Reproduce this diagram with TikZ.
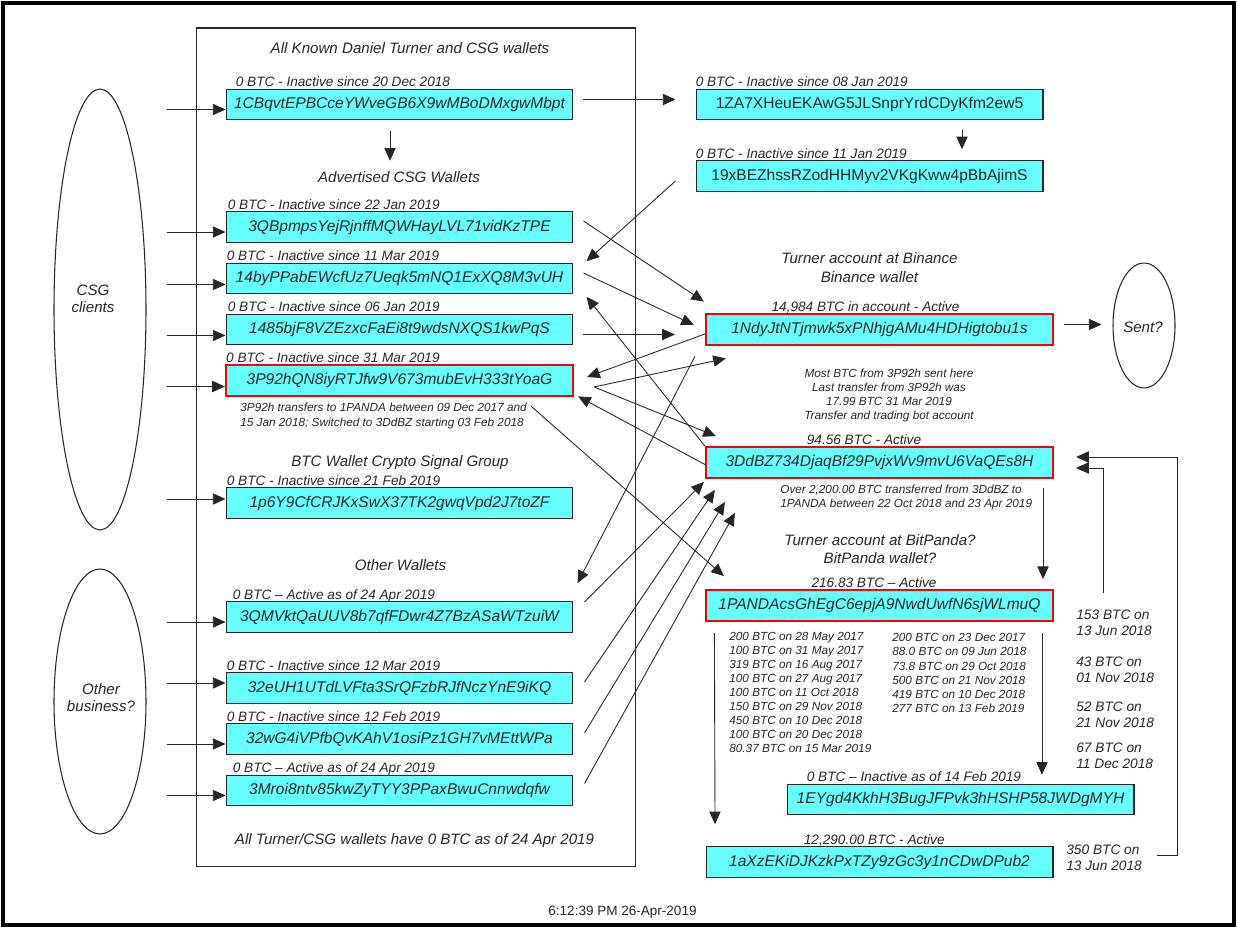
\documentclass[tikz,border=0pt]{standalone}
\usepackage{fontspec}
\setmainfont{Liberation Sans}
\usetikzlibrary{positioning}
\usetikzlibrary{calc}
\usetikzlibrary{arrows.meta}
\usetikzlibrary{shapes.geometric}
\definecolor{walletcyan}{RGB}{102,255,255}
\definecolor{flagred}{RGB}{255,0,0}
\definecolor{ink}{gray}{.15}
\newcommand{\widthwallet}{6.94cm}
\newcommand{\heightwallet}{0.61cm}
\newcommand{\walletfont}{\fontsize{8.85}{10}\selectfont\itshape}
\newcommand{\statusfont}{\fontsize{7.75}{9}\selectfont\itshape}
\newcommand{\headfont}{\fontsize{8.6}{10.8}\selectfont\itshape}
\newcommand{\notefont}{\fontsize{6.7}{8}\selectfont\itshape}
\newcommand{\sumfont}{\fontsize{7.8}{9.3}\selectfont\itshape}
\tikzset{
    wallet/.style={draw=ink, fill=walletcyan, line width=0.6pt, text=black!85,
        minimum width=\widthwallet, minimum height=\heightwallet, inner sep=0pt, font=\walletfont},
    plain wallet/.style={wallet, font=\fontsize{8.85}{10}\selectfont\upshape},
    flagged/.style={wallet, draw=flagred, line width=1.3pt},
    status/.style={anchor=base west, inner sep=0pt, text=ink, font=\statusfont},
    heading/.style={inner sep=0pt, align=center, text=ink, font=\headfont},
    remark/.style={inner sep=0pt, align=left, text=ink, font=\notefont},
    amount/.style={anchor=west, inner sep=0pt, align=left, text=ink, font=\sumfont},
    party/.style={draw=ink, ellipse, line width=0.6pt, inner sep=0pt},
    flow/.style={-{Triangle[length=7.2pt, width=6.4pt]}, draw=ink, line width=0.5pt},
}

\begin{document}
\begin{tikzpicture}[x=0.02cm, y=-0.02cm]
    \useasboundingbox (0,0) rectangle (1238,928);
    \draw[line width=2.2pt] (3,3) rectangle (1234,925);
    \draw[ink, line width=0.6pt] (196.5,28) rectangle (635.5,866.5);

    % clients
    \node[party, minimum width=1.84cm, minimum height=8.82cm] (csg) at (100,309.5) {};
    \node[heading, font=\fontsize{8.6}{10}\selectfont\itshape] (csgtxt) at (93,299) {CSG\\clients};
    \node[party, minimum width=1.84cm, minimum height=5.3cm] (biz) at (100,701.5) {};
    \node[heading, font=\fontsize{8.6}{10}\selectfont\itshape] (biztxt) at (101,697.5) {Other\\business?};
    \node[party, minimum width=1.24cm, minimum height=2.5cm] (sent) at (1144,325.5) {};
    \node[heading] (senttxt) at (1143,327) {Sent?};

    % left column
    \node[heading] (known) at (410,48) {All Known Daniel Turner and CSG wallets};
    \node[heading] (advert) at (399,177) {Advertised CSG Wallets};
    \node[heading] (signal) at (400,463) {BTC Wallet Crypto Signal Group};
    \node[heading] (others) at (400.5,565) {Other Wallets};
    \node[heading] (allzero) at (414.5,841) {All Turner/CSG wallets have 0 BTC as of 24 Apr 2019};

    \node[wallet] (w1) at (399.5,104.5) {1CBqvtEPBCceYWveGB6X9wMBoDMxgwMbpt};
    \node[wallet] (adv1) at (399.5,227) {3QBpmpsYejRjnffMQWHayLVL71vidKzTPE};
    \node[wallet] (adv2) at (399.5,278.5) {14byPPabEWcfUz7Ueqk5mNQ1ExXQ8M3vUH};
    \node[wallet] (adv3) at (399.5,329.5) {1485bjF8VZEzxcFaEi8t9wdsNXQS1kwPqS};
    \node[flagged] (adv4) at (399.5,380.5) {3P92hQN8iyRTJfw9V673mubEvH333tYoaG};
    \node[remark, anchor=west, font=\fontsize{6.7}{8.5}\selectfont\itshape] (note92) at (240,415.5)
        {3P92h transfers to 1PANDA between 09 Dec 2017 and\\15 Jan 2018; Switched to 3DdBZ starting 03 Feb 2018};
    \node[wallet] (sig) at (399.5,503) {1p6Y9CfCRJKxSwX37TK2gwqVpd2J7toZF};
    \node[wallet] (oth1) at (399.5,617) {3QMVktQaUUV8b7qfFDwr4Z7BzASaWTzuiW};
    \node[wallet] (oth2) at (399.5,688) {32eUH1UTdLVFta3SrQFzbRJfNczYnE9iKQ};
    \node[wallet] (oth3) at (399.5,739) {32wG4iVPfbQvKAhV1osiPz1GH7vMEttWPa};
    \node[wallet] (oth4) at (399.5,790.5) {3Mroi8ntv85kwZyTYY3PPaxBwuCnnwdqfw};

    % right column
    \node[plain wallet] (za7x) at (869.5,104.5) {1ZA7XHeuEKAwG5JLSnprYrdCDyKfm2ew5};
    \node[plain wallet] (bez19) at (869.5,176) {19xBEZhssRZodHHMyv2VKgKww4pBbAjimS};
    \node[heading] (bintitle) at (869.5,268) {Turner account at Binance\\Binance wallet};
    \node[flagged] (binance) at (879.5,329.5) {1NdyJtNTjmwk5xPNhjgAMu4HDHigtobu1s};
    \node[remark, align=center] (binnote) at (889,395.5)
        {Most BTC from 3P92h sent here\\Last transfer from 3P92h was\\17.99 BTC 31 Mar 2019\\Transfer and trading bot account};
    \node[flagged] (ddbz) at (879.5,462.5) {3DdBZ734DjaqBf29PvjxWv9mvU6VaQEs8H};
    \node[remark, anchor=west, font=\fontsize{6.7}{7.7}\selectfont\itshape] (ddbznote) at (780,497.5)
        {Over 2,200.00 BTC transferred from 3DdBZ to\\1PANDA between 22 Oct 2018 and 23 Apr 2019};
    \node[heading, font=\fontsize{8.6}{10.3}\selectfont\itshape] (pandatitle) at (880,549) {Turner account at BitPanda?\\BitPanda wallet?};
    \node[flagged] (panda) at (879.5,605.5) {1PANDAcsGhEgC6epjA9NwdUwfN6sjWLmuQ};
    \node[remark, anchor=west] (listA) at (729,692.5)
        {200 BTC on 28 May 2017\\100 BTC on 31 May 2017\\319 BTC on 16 Aug 2017\\100 BTC on 27 Aug 2017\\100 BTC on 11 Oct 2018\\150 BTC on 29 Nov 2018\\450 BTC on 10 Dec 2018\\100 BTC on 20 Dec 2018\\80.37 BTC on 15 Mar 2019};
    \node[remark, anchor=west] (listB) at (892,673)
        {200 BTC on 23 Dec 2017\\88.0 BTC on 09 Jun 2018\\73.8 BTC on 29 Oct 2018\\500 BTC on 21 Nov 2018\\419 BTC on 10 Dec 2018\\277 BTC on 13 Feb 2019};
    \node[wallet] (eygd) at (960.5,799.5) {1EYgd4KkhH3BugJFPvk3hHSHP58JWDgMYH};
    \node[wallet] (axze) at (879.5,862) {1aXzEKiDJKzkPxTZy9zGc3y1nCDwDPub2};

    \node[amount] (t153) at (1076,623) {153 BTC on\\13 Jun 2018};
    \node[amount] (t43) at (1076,670) {43 BTC on\\01 Nov 2018};
    \node[amount] (t52) at (1076,715) {52 BTC on\\21 Nov 2018};
    \node[amount] (t67) at (1076,756) {67 BTC on\\11 Dec 2018};
    \node[amount] (t350) at (1066,857.5) {350 BTC on\\13 Jun 2018};

    \foreach \w/\dx/\txt in {w1/10/{0 BTC - Inactive since 20 Dec 2018}, adv1/2/{0 BTC - Inactive since 22 Jan 2019},
            adv2/1/{0 BTC - Inactive since 11 Mar 2019}, adv3/2/{0 BTC - Inactive since 06 Jan 2019},
            adv4/1/{0 BTC - Inactive since 31 Mar 2019}, sig/1/{0 BTC - Inactive since 21 Feb 2019},
            oth1/7/{0 BTC – Active as of 24 Apr 2019}, oth2/1/{0 BTC - Inactive since 12 Mar 2019},
            oth3/1/{0 BTC - Inactive since 12 Feb 2019}, oth4/7/{0 BTC – Active as of 24 Apr 2019},
            za7x/0/{0 BTC - Inactive since 08 Jan 2019}, bez19/0/{0 BTC - Inactive since 11 Jan 2019},
            eygd/20/{0 BTC – Inactive as of 14 Feb 2019}, axze/98/{12,290.00 BTC - Active}}
        \node[status] (\w-st) at ($(\w.north west)+(\dx,-2)$) {\txt};
    \node[status, anchor=base] (binance-st) at ($(binance.north)+(-14,-2)$) {14,984 BTC in account - Active};
    \node[status, anchor=base] (ddbz-st) at ($(ddbz.north)+(-15.5,-2)$) {94.56 BTC - Active};
    \node[status, anchor=base] (panda-st) at ($(panda.north)+(-5.5,-2)$) {216.83 BTC – Active};

    % incoming from clients
    \foreach \w/\dy in {w1/5, adv1/5, adv2/6, adv3/6, adv4/6, sig/-4}
        \draw[flow] ($(csg.east |- \w.west)+(20,\dy)$) -- ($(\w.west)+(0,\dy)$);
    \foreach \w/\dy in {oth1/5, oth2/-5, oth3/5, oth4/5}
        \draw[flow] ($(biz.east |- \w.west)+(20,\dy)$) -- ($(\w.west)+(0,\dy)$);

    % transfers
    \draw[flow] ($(w1.east)+(10,-5)$) -- ($(za7x.west)+(-20,-5)$);
    \draw[flow] ($(w1.south)+(-9.5,10.5)$) -- ($(w1.south)+(-9.5,40.5)$);
    \draw[flow] ($(za7x.south)+(92.5,10)$) -- ($(bez19.north)+(92.5,-11)$);
    \draw[flow] ($(bez19.west)+(-20,5)$) -- ($(adv2.north east)+(13,-1.5)$);
    \draw[flow] ($(adv1.east)+(10,-6)$) -- ($(binance.north west)+(-1,-11.5)$);
    \draw[flow] ($(adv2.east)+(10,-5.5)$) -- ($(binance.west)+(-11,-4.5)$);
    \draw[flow] ($(adv3.east)+(10,5)$) -- ($(binance.west)+(-30,5)$);
    \draw[flow] ($(binance.west)+(0,4.5)$) -- ($(adv4.east)+(13,-3.5)$);
    \draw[flow] ($(adv4.east)+(20,6.5)$) -- ($(binance.south west)+(21,12.5)$);
    \draw[flow] ($(adv4.east)+(20,6.5)$) -- ($(ddbz.north west)+(11,-10)$);
    \draw[flow] ($(ddbz.west)+(0,2)$) -- ($(adv4.south east)+(4,-0.5)$);
    \draw[flow] (ddbz.north west) -- ($(adv2.south east)+(13,2.5)$);
    \draw[flow] ($(binance.south west)+(-10,10.5)$) -- ($(oth1.north east)+(4,-18)$);
    \draw[flow] ($(note92.north east)+(4,4)$) -- ($(panda.north west)+(19,-13)$);
    \foreach \w/\dy/\tx/\ty in {oth1/-15/-1/3, oth2/-6/10/11, oth3/-6/20/23, oth4/-7/30/34}
        \draw[flow] ($(\w.east)+(11,\dy)$) -- ($(ddbz.south west)+(\tx,\ty)$);
    \draw[flow] ($(binance.east)+(10,-5)$) -- ($(sent.west)+(-11,-1)$);
    \draw[flow] ($(ddbz.south)+(163.5,9)$) -- ($(panda.north)+(163.5,-10)$);
    \draw[flow] ($(panda.south)+(162.5,11)$) -- ($(eygd.north)+(81.5,-9)$);
    \draw[flow] ($(panda.south west)+(9.5,11)$) -- ($(axze.north west)+(9.5,-22)$);
    \draw[flow] ($(t153.north west)+(27,-17)$) |- ($(ddbz.east)+(22,5.5)$);
    \draw[flow] ($(t350.east)+(15,-2)$) -- ++(20,0) |- ($(ddbz.east)+(22,-5.5)$);

    \node[inner sep=0pt, text=ink, font=\fontsize{7.7}{9}\selectfont] (stamp) at (622.5,912) {6:12:39 PM 26-Apr-2019};
\end{tikzpicture}
\end{document}
